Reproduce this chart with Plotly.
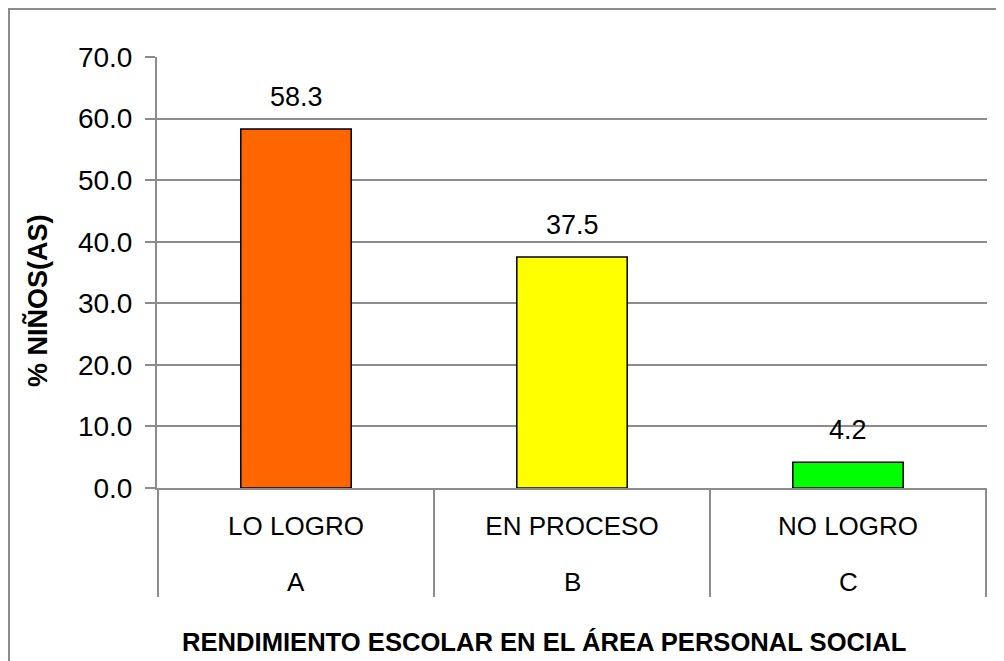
import plotly.graph_objects as go

# data
niveles = ["A", "B", "C"]
categorias = ["LO LOGRO", "EN PROCESO", "NO LOGRO"]
porcentajes = [58.3, 37.5, 4.2]
colores = ["#FF6600", "#FFFF00", "#00FF00"]
y_ticks = [0, 10, 20, 30, 40, 50, 60, 70]

fuente = "Liberation Sans, Arial, sans-serif"
gris = "#8c8c8c"

fig = go.Figure()
fig.add_trace(go.Bar(
    x=categorias,
    y=porcentajes,
    marker=dict(color=colores, line=dict(color="black", width=1.5)),
    width=0.4,
))

fig.update_layout(
    width=996, height=653,
    margin=dict(l=149, r=17, t=49, b=173),
    paper_bgcolor="white", plot_bgcolor="white",
    showlegend=False,
    font=dict(family=fuente, size=26, color="black"),
    xaxis=dict(
        type="category",
        showline=True, linecolor=gris, linewidth=2,
        ticks="outside", ticklen=14, tickcolor="rgba(0,0,0,0)",
        tickfont=dict(size=26),
    ),
    yaxis=dict(
        range=[0, 70], tickvals=y_ticks, ticktext=[f"{v:.1f}" for v in y_ticks],
        showgrid=True, gridcolor=gris, gridwidth=2,
        showline=True, linecolor=gris, linewidth=2,
        ticks="outside", ticklen=10, tickcolor=gris, tickwidth=2,
        tickfont=dict(size=28), ticklabelstandoff=7,
        zeroline=False,
    ),
)

# etiquetas de valor sobre las barras
for cat, v in zip(categorias, porcentajes):
    fig.add_annotation(x=cat, y=v, text=f"{v:.1f}", showarrow=False,
                       yanchor="bottom", yshift=15, font=dict(size=27))

# segundo nivel de categorias (A, B, C)
for cat, niv in zip(categorias, niveles):
    fig.add_annotation(x=cat, xref="x", y=-0.218, yref="paper", text=niv,
                       showarrow=False, yanchor="middle", font=dict(size=26))

# divisiones entre categorias
for i in range(len(categorias) + 1):
    fig.add_shape(type="line", xref="x", yref="paper",
                  x0=i - 0.5, x1=i - 0.5, y0=0, y1=-0.253,
                  line=dict(color=gris, width=2))

# titulos de ejes
fig.add_annotation(x=0.4657, xref="paper", y=-0.357, yref="paper",
                   text="<b>RENDIMIENTO ESCOLAR EN EL ÁREA PERSONAL SOCIAL</b>",
                   showarrow=False, xanchor="center", yanchor="middle",
                   font=dict(size=25.6))
fig.add_annotation(x=-0.1446, xref="paper", y=0.436, yref="paper",
                   text="<b>% NIÑOS(AS)</b>", textangle=-90,
                   showarrow=False, xanchor="center", yanchor="middle",
                   font=dict(size=27))

# marco exterior del grafico
fig.add_shape(type="rect", xref="paper", yref="paper",
              x0=-0.1783, x1=1.2, y0=-0.5, y1=1.1114,
              line=dict(color=gris, width=2), layer="below")

fig.write_html("out.html")
